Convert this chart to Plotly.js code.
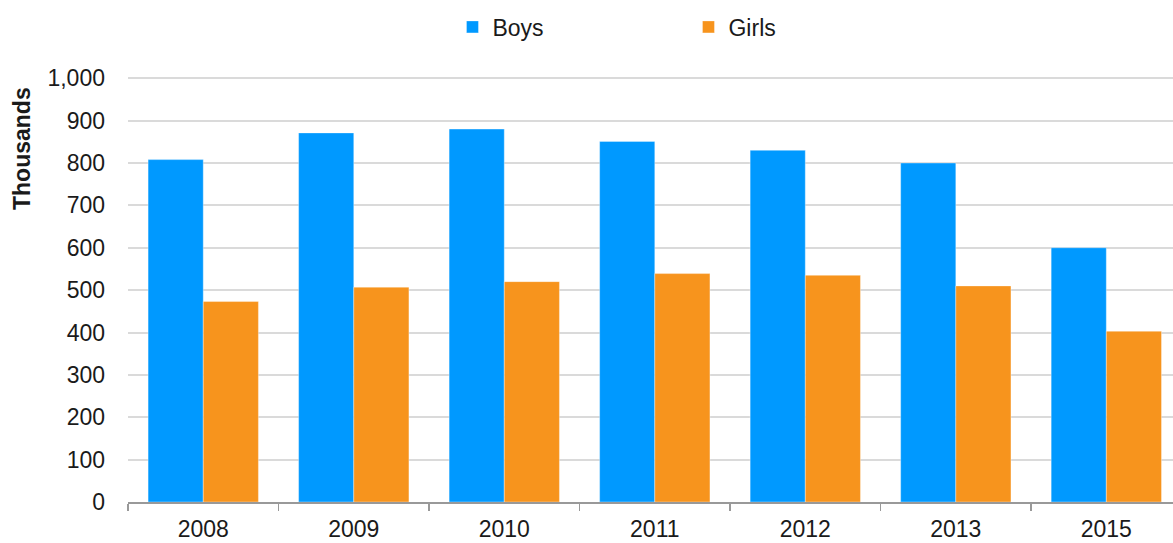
<!DOCTYPE html>
<html>
<head>
<meta charset="utf-8">
<script src="https://cdn.plot.ly/plotly-3.0.1.min.js"></script>
<style>html,body{margin:0;padding:0;overflow:hidden;background:#fff}</style>
</head>
<body>
<div id="chart" style="width:1173px;height:543px"></div>
<script>
const years = ["2008", "2009", "2010", "2011", "2012", "2013", "2015"];
const boys = [808, 871, 880, 851, 830, 800, 600];
const girls = [473, 507, 520, 539, 535, 510, 403];
const yTicks = [0, 100, 200, 300, 400, 500, 600, 700, 800, 900, 1000];
const yTickText = ["0", "100", "200", "300", "400", "500", "600", "700", "800", "900", "1,000"];
const yTitle = "Thousands";

const FAM = "Liberation Sans, Arial, sans-serif";
const font = {family: FAM, size: 23, color: "#1a1a1a"};

const traces = [
  {type: "bar", name: "Boys", x: years, y: boys, marker: {color: "#0099FF", line: {width: 0.6, color: "rgba(255,255,255,0.6)"}}},
  {type: "bar", name: "Girls", x: years, y: girls, marker: {color: "#F7941D", line: {width: 0.6, color: "rgba(255,255,255,0.6)"}}}
];

const layout = {
  width: 1173, height: 543,
  margin: {l: 128, r: 0, t: 74, b: 41},
  font: font,
  paper_bgcolor: "#fff", plot_bgcolor: "#fff",
  barmode: "group", bargap: 0.267, bargroupgap: 0,
  showlegend: true,
  legend: {orientation: "h", x: 0.3105, xanchor: "left", xref: "paper", y: 0.99, yref: "container", yanchor: "top",
           font: font, entrywidth: 191, entrywidthmode: "pixels", itemwidth: 30, traceorder: "normal"},
  xaxis: {type: "category", range: [-0.5, 6.443], tickson: "boundaries", ticks: "outside", ticklen: 7,
          tickcolor: "#999", tickwidth: 1.5, showline: true, linecolor: "#999", linewidth: 1.5,
          showgrid: false, tickfont: font, ticklabelstandoff: 6, fixedrange: true},
  yaxis: {range: [0, 1010], tickvals: yTicks, ticktext: yTickText, showgrid: true, gridcolor: "#dadada",
          gridwidth: 2, zeroline: false, showline: false, ticks: "", ticklabelstandoff: 22, tickfont: font,
          fixedrange: true},
  annotations: [
    {text: yTitle, xref: "paper", yref: "paper", x: 0, y: 1, xshift: -106, yshift: -75,
     showarrow: false, textangle: -90, xanchor: "center", yanchor: "middle",
     font: {family: FAM, size: 23, color: "#1a1a1a", weight: "bold"}}
  ]
};

Plotly.newPlot("chart", traces, layout, {displayModeBar: false, staticPlot: true});
</script>
</body>
</html>
